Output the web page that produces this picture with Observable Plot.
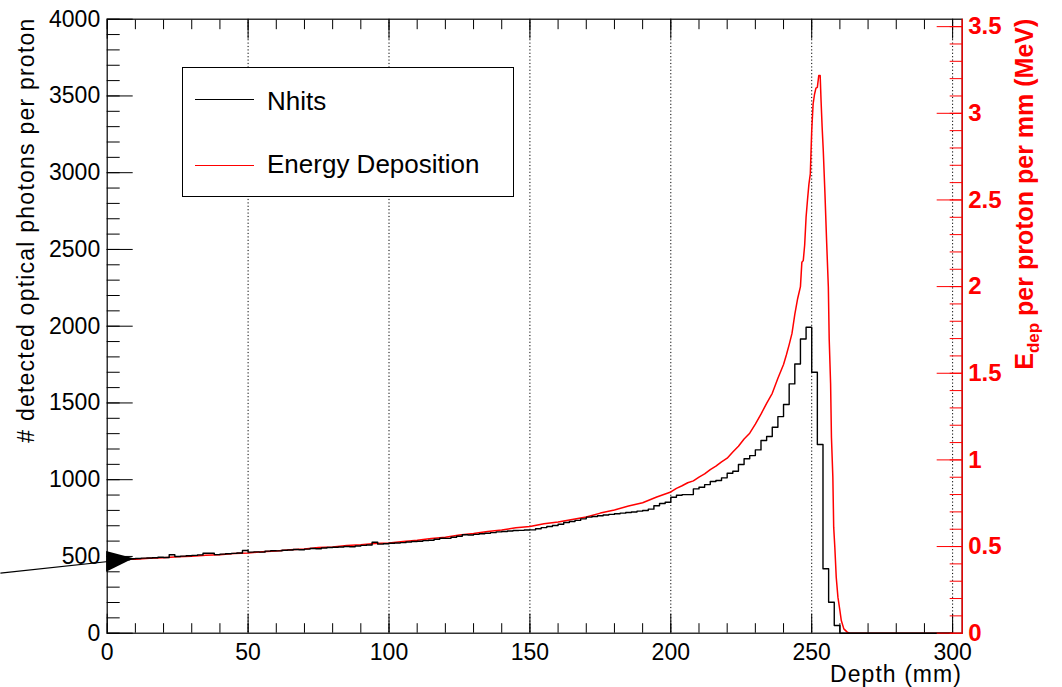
<!DOCTYPE html>
<html><head><meta charset="utf-8">
<script src="https://cdn.jsdelivr.net/npm/d3@7"></script>
<script src="https://cdn.jsdelivr.net/npm/@observablehq/plot@0.6"></script>
<style>
body{margin:0;background:#fff;}
#wrap{position:relative;width:1062px;height:687px;font-family:"Liberation Sans",Arial,Helvetica,sans-serif;}
#legend{position:absolute;left:182px;top:67px;width:332px;height:130px;border:1px solid #000;background:#fff;box-sizing:border-box;}
.lg-line{position:absolute;left:12px;width:59px;height:0;border-top:1.3px solid #000;}
.lg-text{position:absolute;left:84px;font-size:26px;line-height:26px;color:#000;white-space:nowrap;}
</style></head><body><div id="wrap"></div>
<script>
// ---------------- data ----------------
const nhitsBinWidth = 2; // mm, bins start at 0
const nhitsValues = [
  470,476,480,478,485,487,489,490,492,495,
  493,511,500,502,505,507,510,521,521,512,
  515,518,520,522,539,528,530,528,535,537,
  536,540,542,545,544,548,552,550,555,558,
  560,562,565,563,568,572,575,593,580,583,
  586,588,590,594,597,599,603,606,612,619,
  618,625,632,641,640,644,648,651,655,660,
  663,666,669,670,672,673,680,688,695,702,
  710,721,728,735,745,756,760,765,770,774,
  778,782,786,790,795,799,808,830,845,853,
  886,899,903,903,940,951,968,988,995,1012,
  1042,1055,1099,1136,1157,1194,1255,1281,1342,1411,
  1490,1624,1754,1917,1993,1700,1229,420,202,50
];
const edepDepth = [
  0,5,10,15,20,25,30,35,40,45,50,55,60,65,70,75,80,85,90,95,
  100,105,110,115,120,125,130,135,140,145,150,155,160,165,170,175,180,185,190,195,
  200,202,204,206,208,210,212,214,216,218,220,222,224,226,228,230,232,234,236,238,
  240,241,242,243,244,245,246,246.5,247,247.5,248,248.5,249,249.5,250,250.5,251,251.5,252,252.5,253,
  253.3,253.7,254.1,254.7,255.3,255.9,256.2,256.7,257,257.5,257.8,258.2,258.7,259.3,260,260.5,261.4,262.6,263.5,300
];
const edepValues = [
  0.420,0.426,0.427,0.433,0.435,0.441,0.444,0.450,0.453,0.460,0.463,0.470,0.474,0.482,0.486,0.494,0.498,0.506,0.510,0.517,
  0.520,0.529,0.536,0.546,0.554,0.566,0.575,0.587,0.596,0.608,0.616,0.631,0.642,0.656,0.671,0.693,0.711,0.734,0.753,0.786,
  0.815,0.836,0.851,0.868,0.879,0.901,0.919,0.944,0.964,0.989,1.010,1.046,1.079,1.121,1.154,1.206,1.264,1.326,1.384,1.471,
  1.550,1.605,1.665,1.730,1.840,1.930,2.000,2.140,2.150,2.240,2.400,2.500,2.590,2.650,2.900,3.055,3.110,3.145,3.150,3.218,3.218,
  3.080,2.920,2.785,2.535,2.256,1.997,1.700,1.439,1.131,0.900,0.612,0.496,0.323,0.208,0.131,0.073,0.025,0.006,0,0
];
const xTicks = [0,50,100,150,200,250,300];
const xMinorTicks = [0,10,20,30,40,50,60,70,80,90,100,110,120,130,140,150,160,170,180,190,200,210,220,230,240,250,260,270,280,290,300];
const xGrid = [50,100,150,200,250,300];
const yTicks = [0,500,1000,1500,2000,2500,3000,3500,4000];
const eTicks = [0,0.5,1,1.5,2,2.5,3,3.5];
const eMinorTicks = [0,0.1,0.2,0.3,0.4,0.5,0.6,0.7,0.8,0.9,1,1.1,1.2,1.3,1.4,1.5,1.6,1.7,1.8,1.9,2,2.1,2.2,2.3,2.4,2.5,2.6,2.7,2.8,2.9,3,3.1,3.2,3.3,3.4,3.5];
const xMax = 303.4;      // mm, end of frame
const eMax = 3.543;      // MeV at frame top (right axis)
const nMax = 4000;
const arrowTail = {d: -37.9, n: 391};
const arrowTip = {d: 9.5, n: 485};
const arrowBase = {d: -0.2, lo: 397, hi: 533};

// ---------------- build ----------------
const K = nMax / eMax;
const yMinorTicks = d3.range(0, nMax + 1, 100);
const nhits = nhitsValues.map((v, i) => ({x: i * nhitsBinWidth, y: v}));
nhits.push({x: nhitsValues.length * nhitsBinWidth, y: 0}, {x: 300, y: 0});
const edep = edepDepth.map((d, i) => ({x: d, y: edepValues[i] * K}));
const head = [{x: arrowBase.d, lo: arrowBase.lo, hi: arrowBase.hi}, {x: arrowTip.d, lo: arrowTip.n, hi: arrowTip.n}];
const FONT = "Liberation Sans, Arial, Helvetica, sans-serif";

const chart = Plot.plot({
  width: 1062, height: 687,
  marginLeft: 106.7, marginRight: 100.3, marginTop: 18.7, marginBottom: 54.3,
  x: {domain: [0, xMax]},
  y: {domain: [0, nMax]},
  style: {fontFamily: FONT, fontSize: "23px", color: "black", background: "white", overflow: "visible"},
  marks: [
    Plot.ruleX(xGrid, {stroke: "black", strokeDasharray: "1.2,2.2", strokeWidth: 1}),
    Plot.line(edep, {x: "x", y: "y", stroke: "#ff0000", strokeWidth: 1.5}),
    Plot.line(nhits, {x: "x", y: "y", curve: "step-after", stroke: "black", strokeWidth: 1.4}),
    Plot.link([0], {x1: () => arrowTail.d, y1: () => arrowTail.n, x2: () => arrowTip.d, y2: () => arrowTip.n, stroke: "black", strokeWidth: 1.2}),
    Plot.areaY(head, {x: "x", y1: "lo", y2: "hi", fill: "black", curve: "linear"}),
    Plot.frame({stroke: "black", strokeWidth: 1.2}),
    Plot.ruleX([xMax], {stroke: "#ff0000", strokeWidth: 1.3}),
    // bottom axis
    Plot.axisX(xTicks, {anchor: "bottom", tickSize: -19, tickPadding: 29.5, tickFormat: d => String(d), label: null, fontSize: 23}),
    Plot.axisX(xMinorTicks, {anchor: "bottom", tickSize: -9.5, tickFormat: () => "", label: null}),
    // top axis
    Plot.axisX(xTicks, {anchor: "top", tickSize: -19, tickFormat: () => "", label: null}),
    Plot.axisX(xMinorTicks, {anchor: "top", tickSize: -9.5, tickFormat: () => "", label: null}),
    // left axis
    Plot.axisY(yTicks, {anchor: "left", tickSize: -26, tickPadding: 33, tickFormat: d => String(d), label: null, fontSize: 23}),
    Plot.axisY(yMinorTicks, {anchor: "left", tickSize: -13, tickFormat: () => "", label: null}),
    // right axis (energy)
    Plot.axisY(eTicks.map(e => e * K), {anchor: "right", tickSize: -26, tickPadding: 32, color: "#ff0000", fontWeight: "bold", fontSize: 24,
      tickFormat: v => String(Math.round(v / K * 10) / 10), label: null}),
    Plot.axisY(eMinorTicks.map(e => e * K), {anchor: "right", tickSize: -13, color: "#ff0000", tickFormat: () => "", label: null})
  ]
});

const wrap = document.getElementById("wrap");
wrap.appendChild(chart);

// axis titles
const svg = d3.select(chart);
svg.append("text")
  .attr("transform", "translate(34,18.7) rotate(-90)")
  .attr("text-anchor", "end")
  .attr("font-family", FONT).attr("font-size", 23).attr("fill", "black")
  .attr("textLength", 424).attr("lengthAdjust", "spacing")
  .text("# detected optical photons per proton");

const rt = svg.append("text")
  .attr("transform", "translate(1033,18.7) rotate(-90)")
  .attr("text-anchor", "end")
  .attr("font-family", FONT).attr("font-size", 25).attr("font-weight", "bold").attr("fill", "#ff0000");
rt.append("tspan").text("E");
rt.append("tspan").attr("font-size", 17).attr("dy", 6).text("dep");
rt.append("tspan").attr("dy", -6).text(" per proton per mm (MeV)");

svg.append("text")
  .attr("x", 961).attr("y", 681.5)
  .attr("text-anchor", "end")
  .attr("font-family", FONT).attr("font-size", 23).attr("fill", "black")
  .attr("textLength", 131).attr("lengthAdjust", "spacing")
  .text("Depth (mm)");

// legend
const legend = document.createElement("div");
legend.id = "legend";
legend.innerHTML =
  '<div class="lg-line" style="top:31px"></div><div class="lg-text" style="top:20px">Nhits</div>' +
  '<div class="lg-line" style="top:97px;border-top-color:#ff0000"></div><div class="lg-text" style="top:83px">Energy Deposition</div>';
wrap.appendChild(legend);
</script>
</body></html>
